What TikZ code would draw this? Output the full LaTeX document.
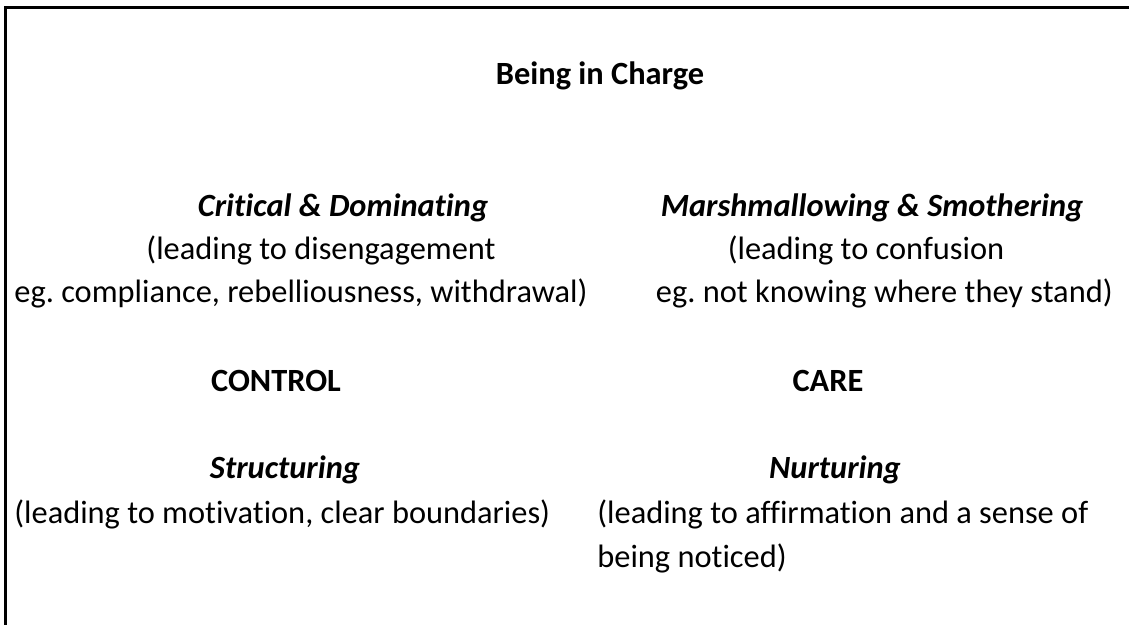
\documentclass[tikz,border=0pt]{standalone}
\usepackage{fontspec}
\setmainfont{Carlito}[Ligatures=CommonOff]
\usetikzlibrary{positioning}

\newcommand{\cellsize}{\fontsize{16.2}{22}\selectfont\frenchspacing}

\tikzset{
  txt/.style={inner sep=0pt, anchor=base, font=\cellsize},
  heading/.style={txt, font=\cellsize\bfseries},
  mode/.style={txt, font=\cellsize\bfseries\itshape},
}

\begin{document}
\begin{tikzpicture}[x=0.5pt, y=-0.5pt]
  \useasboundingbox (0,0) rectangle (1129,625);

  % table edges (left and top only)
  \draw[line width=1.5pt] (5.5,625) -- (5.5,7.5) -- (1129,7.5);

  \node[heading] (charge) at (600,85) {Being in Charge};

  % upper row
  \node[mode] (crit) at (343,217) {Critical \& Dominating};
  \node[txt] (critA) at (321,260) {(leading to disengagement};
  \node[txt, anchor=base west] (critB) at (14,303) {eg. compliance, rebelliousness, withdrawal)};

  \node[mode] (marsh) at (872,217) {Marshmallowing \& Smothering};
  \node[txt] (marshA) at (866,260) {(leading to confusion};
  \node[txt, anchor=base east] (marshB) at (1113,303) {eg. not knowing where they stand)};

  % axis words
  \node[heading] (control) at (276,392) {CONTROL};
  \node[heading] (care) at (828,392) {CARE};

  % lower row
  \node[mode] (struct) at (285,478) {Structuring};
  \node[txt, anchor=base west] (structA) at (14,523) {(leading to motivation, clear boundaries)};

  \node[mode] (nurt) at (835,478) {Nurturing};
  \node[txt, anchor=base west] (nurtA) at (597,523) {(leading to affirmation and a sense of};
  \node[txt, anchor=base west] (nurtB) at (597,567) {being noticed)};
\end{tikzpicture}
\end{document}
